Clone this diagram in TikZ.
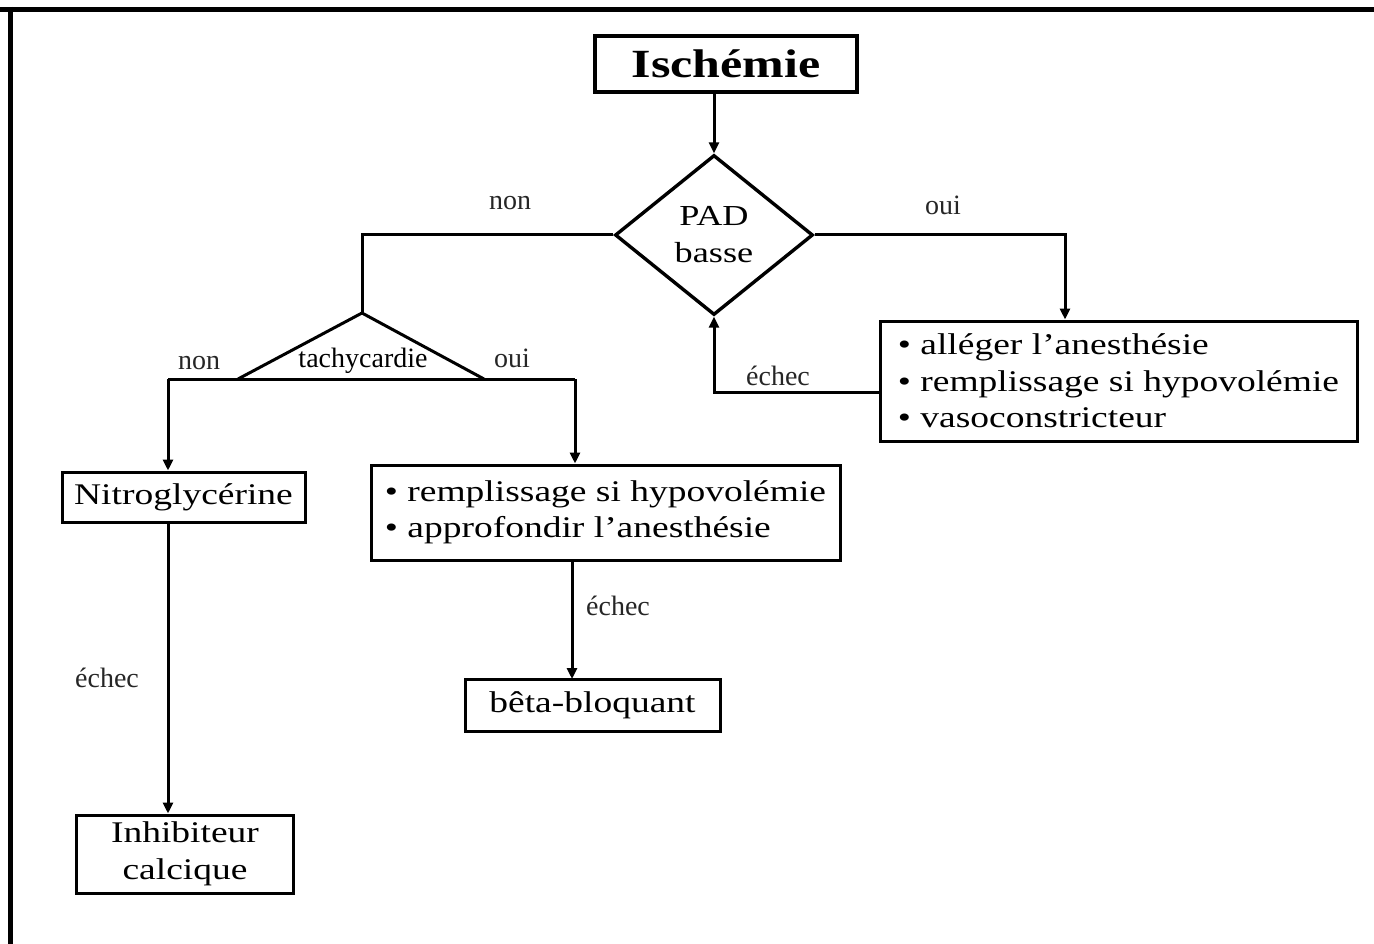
\documentclass[tikz,border=0pt]{standalone}
\usepackage{fontspec}
\setmainfont{Liberation Serif}
\newfontfamily\boxfont{Liberation Serif}[FakeStretch=1.25]
\newfontfamily\lblfont{Liberation Serif}
\usetikzlibrary{shapes.geometric,arrows.meta}
\tikzset{
  conn/.style={line width=3pt},
  arr/.style={conn,-{Triangle[length=11pt,width=10pt]}},
  box/.style={draw,line width=3pt,inner sep=0pt,font=\boxfont\fontsize{30}{36.5}\selectfont},
  lbl/.style={inner sep=0pt,text=black!85,font=\lblfont\fontsize{28}{32}\selectfont}
}
\begin{document}
\begin{tikzpicture}[x=1pt,y=-1pt]
\useasboundingbox (0,0) rectangle (1374,944);
% frame (top and left edges)
\draw[line width=5pt] (0,9.5) -- (1374,9.5);
\draw[line width=5pt] (10,7) -- (10,944);

% nodes
\node[box,line width=4pt,minimum width=262,minimum height=56,
      font=\boxfont\bfseries\fontsize{40}{44}\selectfont] (isch) at (726,64) {Ischémie};
\node[draw,diamond,line width=3.4pt,aspect=1.24,minimum width=198,minimum height=160,
      inner sep=0pt,align=center,font=\boxfont\fontsize{29}{37}\selectfont] (pad) at (714,235) {PAD\\basse};
\node[box,align=left,minimum width=477,minimum height=120] (alleger) at (1118.5,381)
  {\textbullet\ alléger l’anesthésie\\\textbullet\ remplissage si hypovolémie\\\textbullet\ vasoconstricteur};
\node[box,minimum width=243,minimum height=50] (nitro) at (183.5,497) {Nitroglycérine};
\node[box,align=left,minimum width=469,minimum height=95] (rempl) at (605.5,512.5)
  {\textbullet\ remplissage si hypovolémie\\\textbullet\ approfondir l’anesthésie};
\node[box,minimum width=255,minimum height=52] (beta) at (592.5,705) {bêta-bloquant};
\node[box,align=center,minimum width=217,minimum height=78] (inhib) at (185,854) {Inhibiteur\\calcique};

% tachycardie triangle
\coordinate (tapex) at (362,313);
\coordinate (tleft) at (238,379);
\coordinate (tright) at (484,379);
\draw[conn,line join=miter] (tleft) -- (tapex) -- (tright);
\node[lbl,text=black] (tach) at (363,361) {tachycardie};

% branch points
\coordinate (bnon) at (168,379);
\coordinate (boui) at (575,379);
\coordinate (bright) at (1065,235);
\coordinate (fb) at (714,392);

% connectors
\draw[arr] (isch.south -| pad.north) -- (pad.north);
\draw[conn] (pad.west) -| (tapex);
\draw[arr] (pad.east) -| (bright |- alleger.north);
\draw[conn] (bnon) -- (boui);
\draw[arr] (bnon) -- (bnon |- nitro.north);
\draw[arr] (boui) -- (boui |- rempl.north);
\draw[arr] (bnon |- nitro.south) -- (bnon |- inhib.north);
\draw[arr] (572,560) -- (572,679);
\draw[arr] (alleger.west |- fb) -- (fb) -- (pad.south);

% labels
\node[lbl] (l1) at (510,203) {non};
\node[lbl] (l2) at (943,205) {oui};
\node[lbl] (l3) at (199,363) {non};
\node[lbl] (l4) at (512,358) {oui};
\node[lbl] (l5) at (778,376) {échec};
\node[lbl] (l6) at (618,606) {échec};
\node[lbl] (l7) at (107,678) {échec};
\end{tikzpicture}
\end{document}
